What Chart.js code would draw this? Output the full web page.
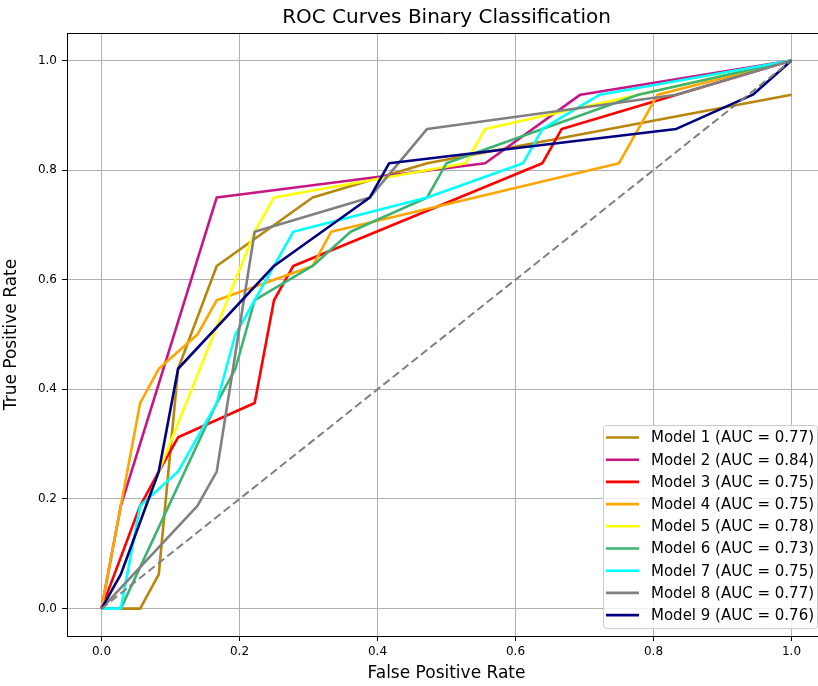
<!DOCTYPE html>
<html>
<head>
<meta charset="utf-8">
<title>ROC Curves Binary Classification</title>
<script src="https://cdn.jsdelivr.net/npm/chart.js@4.4.1/dist/chart.umd.min.js"></script>
<style>
  body { margin: 0; overflow: hidden; background: #fff; }
  #wrap { width: 840px; height: 686px; }
</style>
</head>
<body>
<div id="wrap"><canvas id="rocChart" width="840" height="686"></canvas></div>
<script>
// Start Data
const modelNames = ['Model 1', 'Model 2', 'Model 3', 'Model 4', 'Model 5', 'Model 6', 'Model 7', 'Model 8', 'Model 9'];
const aucScores = [0.77, 0.84, 0.75, 0.75, 0.78, 0.73, 0.75, 0.77, 0.76];
const tickValues = [0.0, 0.2, 0.4, 0.6, 0.8, 1.0];

const fpr1 = [0, 0.056, 0.083, 0.111, 0.167, 0.306, 0.472, 1];
const tpr1 = [0, 0, 0.0625, 0.4375, 0.625, 0.75, 0.8125, 0.9375];
const fpr2 = [0, 0.028, 0.167, 0.556, 0.694, 1];
const tpr2 = [0, 0.1875, 0.75, 0.8125, 0.9375, 1];
const fpr3 = [0, 0.056, 0.083, 0.111, 0.222, 0.25, 0.278, 0.639, 0.667, 1];
const tpr3 = [0, 0.1875, 0.25, 0.3125, 0.375, 0.5625, 0.625, 0.8125, 0.875, 1];
const fpr4 = [0, 0.056, 0.083, 0.139, 0.167, 0.306, 0.333, 0.75, 0.806, 1];
const tpr4 = [0, 0.375, 0.4375, 0.5, 0.5625, 0.625, 0.6875, 0.8125, 0.9375, 1];
const fpr5 = [0, 0.028, 0.083, 0.222, 0.25, 0.528, 0.556, 1];
const tpr5 = [0, 0.0625, 0.25, 0.6875, 0.75, 0.8125, 0.875, 1];
const fpr6 = [0, 0.028, 0.167, 0.194, 0.222, 0.306, 0.361, 0.472, 0.5, 0.778, 1];
const tpr6 = [0, 0, 0.375, 0.4375, 0.5625, 0.625, 0.6875, 0.75, 0.8125, 0.9375, 1];
const fpr7 = [0, 0.028, 0.056, 0.111, 0.167, 0.194, 0.222, 0.25, 0.278, 0.472, 0.611, 0.639, 0.722, 1];
const tpr7 = [0, 0, 0.1875, 0.25, 0.375, 0.5, 0.5625, 0.625, 0.6875, 0.75, 0.8125, 0.875, 0.9375, 1];
const fpr8 = [0, 0.139, 0.167, 0.222, 0.389, 0.472, 0.833, 1];
const tpr8 = [0, 0.1875, 0.25, 0.6875, 0.75, 0.875, 0.9375, 1];
const fpr9 = [0, 0.028, 0.083, 0.111, 0.25, 0.389, 0.417, 0.833, 0.944, 1];
const tpr9 = [0, 0.0625, 0.25, 0.4375, 0.625, 0.75, 0.8125, 0.875, 0.9375, 1];
const chanceFpr = [0, 1];
const chanceTpr = [0, 1];
// End Data

const fprList = [fpr1, fpr2, fpr3, fpr4, fpr5, fpr6, fpr7, fpr8, fpr9];
const tprList = [tpr1, tpr2, tpr3, tpr4, tpr5, tpr6, tpr7, tpr8, tpr9];
const lineColors = ['#b8860b', '#c71585', '#ff0000', '#ffa500', '#ffff00', '#3cb371', '#00ffff', '#808080', '#000080'];
const fontFamily = '"DejaVu Sans", "Liberation Sans", sans-serif';

function toPoints(xs, ys) {
  return xs.map((x, i) => ({x: x, y: ys[i]}));
}

const datasets = modelNames.map((name, i) => ({
  label: name + ' (AUC = ' + aucScores[i].toFixed(2) + ')',
  data: toPoints(fprList[i], tprList[i]),
  borderColor: lineColors[i],
  borderWidth: 2.6,
  borderJoinStyle: 'round',
  pointRadius: 0,
  fill: false,
  tension: 0,
  order: 10 - i   // later models on top, like matplotlib
}));

datasets.push({
  label: 'chance',
  data: toPoints(chanceFpr, chanceTpr),
  borderColor: '#808080',
  borderWidth: 2,
  borderDash: [8, 4],
  pointRadius: 0,
  fill: false,
  order: 0
});

// Start Legend + frame plugin
const plotExtras = {
  id: 'plotExtras',
  afterDatasetsDraw(chart) {
    const ctx = chart.ctx;
    const area = chart.chartArea;

    // top / right spines
    ctx.save();
    ctx.strokeStyle = '#000';
    ctx.lineWidth = 1;
    ctx.beginPath();
    ctx.moveTo(area.left, area.top + 0.5);
    ctx.lineTo(area.right, area.top + 0.5);
    ctx.lineTo(area.right, area.bottom);
    ctx.stroke();
    ctx.restore();

    // legend box (lower right)
    const boxW = 214, boxH = 203;
    const boxX = area.right - 9 - boxW;
    const boxY = area.bottom - 8 - boxH;
    ctx.save();
    ctx.beginPath();
    ctx.roundRect(boxX + 0.5, boxY + 0.5, boxW, boxH, 3);
    ctx.fillStyle = 'rgba(255,255,255,0.8)';
    ctx.fill();
    ctx.strokeStyle = '#cccccc';
    ctx.lineWidth = 1;
    ctx.stroke();

    ctx.font = '15px ' + fontFamily;
    ctx.textBaseline = 'middle';
    ctx.textAlign = 'left';
    for (let i = 0; i < modelNames.length; i++) {
      const rowY = boxY + 12.5 + i * 22.2;
      ctx.strokeStyle = lineColors[i];
      ctx.lineWidth = 2.6;
      ctx.beginPath();
      ctx.moveTo(boxX + 3, rowY);
      ctx.lineTo(boxX + 36, rowY);
      ctx.stroke();
      ctx.fillStyle = '#000';
      ctx.fillText(chart.data.datasets[i].label, boxX + 48, rowY + 1);
    }
    ctx.restore();
  },
  afterDraw(chart) {
    const ctx = chart.ctx;
    const area = chart.chartArea;
    ctx.save();
    ctx.font = '20px ' + fontFamily;
    ctx.fillStyle = '#000';
    ctx.textAlign = 'center';
    ctx.textBaseline = 'middle';
    ctx.fillText('ROC Curves Binary Classification', (area.left + area.right) / 2, 18);
    ctx.restore();
  }
};
// End Legend + frame plugin

const ctx = document.getElementById('rocChart');

new Chart(ctx, {
  type: 'line',
  data: { datasets: datasets },
  plugins: [plotExtras],
  options: {
    responsive: false,
    animation: false,
    devicePixelRatio: 1,
    layout: { padding: { top: 33, right: 14, left: 0, bottom: 0 } },
    plugins: {
      legend: { display: false },
      title: { display: false },
      tooltip: { enabled: false }
    },
    scales: {
      x: {
        type: 'linear',
        min: -0.05,
        max: 1.05,
        afterBuildTicks: (scale) => { scale.ticks = tickValues.map(v => ({value: v})); },
        afterFit: (scale) => { scale.height = 50; },
        ticks: {
          callback: (v) => Number(v).toFixed(1),
          font: { family: fontFamily, size: 12 },
          color: '#000',
          padding: 4,
          maxRotation: 0,
          autoSkip: false
        },
        grid: { color: '#b0b0b0', lineWidth: 1, tickLength: 5, tickColor: '#000', tickWidth: 1 },
        border: { color: '#000', width: 1 },
        title: {
          display: true,
          text: 'False Positive Rate',
          font: { family: fontFamily, size: 17 },
          color: '#000',
          padding: { top: 0, bottom: 2 }
        }
      },
      y: {
        type: 'linear',
        min: -0.05,
        max: 1.05,
        afterBuildTicks: (scale) => { scale.ticks = tickValues.map(v => ({value: v})); },
        afterFit: (scale) => { scale.width = 67; },
        ticks: {
          callback: (v) => Number(v).toFixed(1),
          font: { family: fontFamily, size: 12 },
          color: '#000',
          padding: 5,
          autoSkip: false
        },
        grid: { color: '#b0b0b0', lineWidth: 1, tickLength: 5, tickColor: '#000', tickWidth: 1 },
        border: { color: '#000', width: 1 },
        title: {
          display: true,
          text: 'True Positive Rate',
          font: { family: fontFamily, size: 17 },
          color: '#000',
          padding: { top: 1, bottom: 0 }
        }
      }
    }
  }
});
</script>
</body>
</html>
